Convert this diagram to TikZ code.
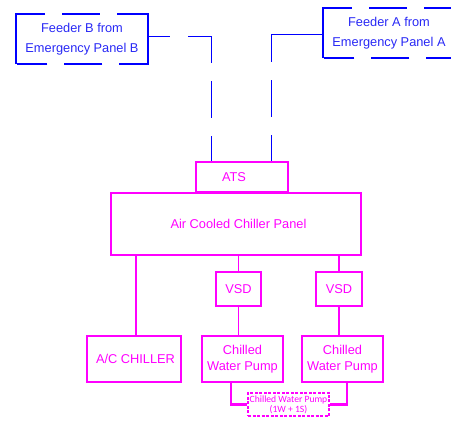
\documentclass[tikz,border=0pt]{standalone}
\usepackage{fontspec}
\setmainfont{Liberation Sans}
\newfontfamily\carlitofont{Carlito}
\definecolor{mag}{RGB}{255,0,255}
\definecolor{fblue}{RGB}{0,0,255}
\definecolor{fbtext}{RGB}{40,40,245}
\begin{document}
\begin{tikzpicture}[x=1pt,y=-1pt,
  mbox/.style={draw=mag, line width=2.2pt, text=mag, inner sep=0pt, font=\fontsize{12.8}{16}\selectfont, align=center},
  mline/.style={draw=mag, line width=1.8pt},
  pline/.style={draw=mag, line width=2.5pt},
  fdbox/.style={inner sep=0pt, text=fbtext, font=\fontsize{12.8}{20}\selectfont, align=center, minimum width=132pt, minimum height=50pt},
  fedge/.style={draw=fblue, line width=2pt},
  fline/.style={draw=fblue, line width=1pt}]
\useasboundingbox (0,0) rectangle (451,422);

% feeder boxes
\node[fdbox] (fb) at (82,39) {Feeder B from\\Emergency Panel B};
\node[fdbox] (fa) at (389,33) {Feeder A from\\Emergency Panel A};
\draw[fedge, dash pattern=on 80pt off 17pt on 38pt off 17pt on 110pt off 17pt on 38pt off 17pt on 30pt]
  (fb.south west) -- (fb.north west) -- (fb.north east) -- (fb.south east) -- cycle;
\draw[fedge, dash pattern=on 80pt off 17pt on 38pt off 17pt on 110pt off 17pt on 38pt off 17pt on 30pt]
  (fa.south west) -- (fa.north west) -- (fa.north east) -- (fa.south east) -- cycle;

% magenta boxes
\node[mbox, minimum width=92pt, minimum height=30pt] (ats) at (242,177) {ATS\hspace{16pt}};
\node[mbox, minimum width=250pt, minimum height=62pt] (panel) at (236,224) {\hspace{5pt}Air Cooled Chiller Panel};
\node[mbox, minimum width=45pt, minimum height=34pt] (vsd1) at (238.5,289) {VSD};
\node[mbox, minimum width=46pt, minimum height=34pt] (vsd2) at (339,289) {VSD};
\node[mbox, minimum width=94pt, minimum height=46pt] (acc) at (134,359) {\hspace{3pt}A/C CHILLER};
\node[mbox, minimum width=81pt, minimum height=46pt] (cwp1) at (242.5,359) {Chilled\\Water Pump};
\node[mbox, minimum width=81pt, minimum height=46pt] (cwp2) at (342.5,359) {Chilled\\Water Pump};
\node[draw=mag, text=mag, line width=1.5pt, dash pattern=on 3pt off 1.5pt, inner sep=0pt,
      minimum width=81pt, minimum height=23pt, align=center,
      font=\carlitofont\fontsize{9.6}{10}\selectfont] (pg) at (288.5,404.5) {Chilled Water Pump\\(1W + 1S)};

% feeder connectors
\draw[fline, dash pattern=on 22pt off 18pt on 49pt off 18pt on 37pt off 18pt on 40pt off 10pt]
  ([yshift=2pt]fb.east) -| ([xshift=-31pt]ats.north);
\draw[fline, dash pattern=on 79pt off 18pt on 37pt off 18pt on 40pt off 10pt]
  ([yshift=-2pt]fa.west) -| ([xshift=29pt]ats.north);

% magenta connectors
\draw[mline] ([xshift=2pt]acc.north) -- ([xshift=2pt]acc.north |- panel.south);
\draw[mline] (vsd1.north) -- (vsd1.north |- panel.south);
\draw[mline] (vsd2.north) -- (vsd2.north |- panel.south);
\draw[mline] (vsd1.south) -- (vsd1.south |- cwp1.north);
\draw[mline] (vsd2.south) -- (vsd2.south |- cwp2.north);
\draw[pline] ([xshift=-11.5pt]cwp1.south) |- (pg.west);
\draw[pline] ([xshift=4.5pt]cwp2.south) |- (pg.east);
\end{tikzpicture}
\end{document}
